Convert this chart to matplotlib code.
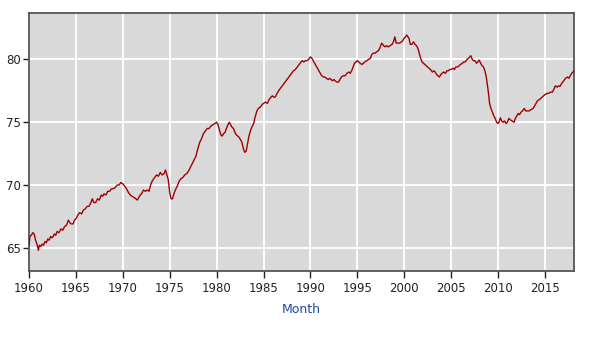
import matplotlib
matplotlib.use("Agg")
import matplotlib.pyplot as plt

years = [
1960.0,1960.1,1960.25,1960.4,1960.55,1960.7,1960.85,1961.0,1961.1,1961.25,1961.4,1961.55,1961.7,1961.85,
1962.0,1962.15,1962.3,1962.5,1962.7,1962.85,1963.0,1963.2,1963.4,1963.6,1963.8,1964.0,1964.2,1964.35,
1964.5,1964.7,1964.85,1965.0,1965.2,1965.4,1965.6,1965.8,1966.0,1966.2,1966.4,1966.6,1966.75,1966.9,
1967.1,1967.3,1967.5,1967.7,1967.85,1968.0,1968.2,1968.4,1968.6,1968.8,1969.0,1969.2,1969.4,1969.6,
1969.8,1970.0,1970.2,1970.4,1970.6,1970.8,1971.0,1971.2,1971.4,1971.55,1971.7,1971.85,1972.0,1972.2,
1972.4,1972.6,1972.8,1973.0,1973.2,1973.4,1973.6,1973.8,1974.0,1974.2,1974.4,1974.55,1974.7,1974.85,
1975.0,1975.15,1975.3,1975.45,1975.6,1975.8,1976.0,1976.2,1976.4,1976.6,1976.8,1977.0,1977.2,1977.4,
1977.6,1977.8,1978.0,1978.2,1978.4,1978.6,1978.8,1979.0,1979.2,1979.4,1979.6,1979.8,1980.0,1980.15,
1980.3,1980.45,1980.6,1980.75,1980.9,1981.05,1981.2,1981.35,1981.5,1981.65,1981.8,1981.95,1982.1,
1982.25,1982.4,1982.55,1982.7,1982.85,1983.0,1983.15,1983.3,1983.45,1983.6,1983.75,1983.95,1984.1,
1984.3,1984.45,1984.65,1984.85,1985.0,1985.2,1985.4,1985.6,1985.8,1985.95,1986.1,1986.25,1986.45,
1986.6,1986.8,1987.0,1987.2,1987.4,1987.6,1987.8,1988.0,1988.2,1988.4,1988.6,1988.8,1989.0,1989.15,
1989.3,1989.45,1989.6,1989.8,1990.0,1990.15,1990.3,1990.45,1990.6,1990.75,1990.9,1991.05,1991.2,
1991.4,1991.55,1991.7,1991.9,1992.05,1992.2,1992.35,1992.5,1992.65,1992.8,1993.0,1993.15,1993.3,
1993.5,1993.7,1993.9,1994.1,1994.25,1994.4,1994.55,1994.7,1994.85,1995.0,1995.15,1995.3,1995.5,
1995.65,1995.8,1996.0,1996.2,1996.4,1996.55,1996.7,1996.9,1997.05,1997.25,1997.4,1997.6,1997.8,
1997.95,1998.1,1998.3,1998.5,1998.7,1998.85,1999.0,1999.15,1999.3,1999.5,1999.7,1999.85,2000.0,
2000.15,2000.25,2000.4,2000.5,2000.65,2000.8,2001.0,2001.15,2001.3,2001.45,2001.6,2001.75,2001.9,
2002.05,2002.2,2002.35,2002.5,2002.65,2002.8,2003.0,2003.15,2003.3,2003.45,2003.6,2003.75,2003.9,
2004.05,2004.2,2004.4,2004.55,2004.7,2004.85,2005.0,2005.2,2005.35,2005.5,2005.7,2005.85,2006.0,
2006.2,2006.35,2006.5,2006.7,2006.85,2007.0,2007.1,2007.25,2007.4,2007.55,2007.7,2007.85,2008.0,
2008.15,2008.3,2008.45,2008.6,2008.75,2008.9,2009.0,2009.1,2009.25,2009.4,2009.55,2009.7,2009.85,
2010.0,2010.1,2010.25,2010.4,2010.55,2010.7,2010.85,2011.0,2011.15,2011.3,2011.5,2011.7,2011.85,
2012.0,2012.15,2012.3,2012.45,2012.6,2012.8,2012.95,2013.15,2013.3,2013.5,2013.75,2013.9,2014.05,
2014.2,2014.4,2014.55,2014.7,2014.85,2015.0,2015.25,2015.4,2015.6,2015.8,2016.0,2016.1,2016.3,
2016.45,2016.6,2016.8,2017.0,2017.2,2017.4,2017.55,2017.7,2017.85,2018.0,2018.08]

ratio = [
65.2,65.9,66.0,66.2,66.1,65.6,65.3,64.8,65.2,65.1,65.3,65.2,65.5,65.4,
65.7,65.6,65.9,65.8,66.1,66.0,66.3,66.2,66.5,66.4,66.7,66.8,67.2,67.0,
66.9,66.9,67.2,67.3,67.6,67.8,67.7,68.0,68.1,68.3,68.3,68.6,68.9,68.6,
68.6,68.9,68.8,69.2,69.1,69.3,69.2,69.5,69.5,69.7,69.7,69.8,70.0,70.0,
70.2,70.1,69.9,69.7,69.4,69.2,69.1,69.0,68.9,68.8,69.0,69.2,69.3,69.6,
69.5,69.6,69.5,70.1,70.4,70.6,70.8,70.7,71.0,70.8,70.9,71.2,70.8,70.4,
69.4,68.9,68.9,69.3,69.6,69.9,70.3,70.5,70.6,70.8,70.9,71.1,71.4,71.7,
72.0,72.3,72.9,73.4,73.7,74.1,74.3,74.5,74.5,74.7,74.8,74.9,75.0,74.8,
74.4,74.0,73.9,74.1,74.2,74.5,74.8,75.0,74.8,74.6,74.5,74.2,74.0,
73.9,73.8,73.6,73.4,72.9,72.6,72.7,73.3,73.9,74.3,74.6,74.9,75.4,
75.9,76.1,76.2,76.4,76.5,76.6,76.5,76.8,77.0,77.1,77.0,77.0,77.3,
77.5,77.7,77.9,78.1,78.3,78.5,78.7,78.9,79.1,79.2,79.4,79.6,79.8,79.9,
79.8,79.9,79.9,80.0,80.2,80.1,79.9,79.7,79.5,79.3,79.1,78.9,78.7,
78.6,78.6,78.5,78.4,78.5,78.4,78.3,78.4,78.3,78.2,78.2,78.4,78.6,
78.7,78.7,78.9,79.0,78.9,79.1,79.4,79.7,79.8,79.9,79.8,79.7,79.6,
79.7,79.8,79.9,80.0,80.1,80.4,80.5,80.5,80.6,80.7,80.9,81.3,81.1,
81.0,81.1,81.0,81.1,81.2,81.4,81.8,81.3,81.3,81.3,81.4,81.5,81.7,
81.8,81.95,81.8,81.7,81.2,81.2,81.4,81.2,81.1,80.9,80.5,80.1,79.8,
79.7,79.6,79.5,79.4,79.3,79.2,79.0,79.1,79.0,78.8,78.7,78.6,78.8,
78.9,79.0,78.9,79.1,79.1,79.2,79.2,79.3,79.2,79.4,79.4,79.5,79.6,
79.7,79.8,79.8,80.0,80.1,80.2,80.3,80.0,79.9,79.9,79.7,79.8,79.95,
79.7,79.5,79.4,79.1,78.6,77.8,77.2,76.5,76.1,75.8,75.5,75.3,75.0,
74.9,75.0,75.35,75.1,75.0,75.1,74.9,75.0,75.3,75.2,75.1,75.0,75.3,
75.5,75.7,75.6,75.8,75.9,76.1,75.9,75.9,75.9,76.0,76.1,76.3,76.5,
76.7,76.8,76.9,77.0,77.1,77.2,77.3,77.3,77.4,77.4,77.7,77.9,77.8,
77.9,77.85,78.1,78.3,78.5,78.6,78.5,78.7,78.9,79.0,79.1]

xticks = [1960, 1965, 1970, 1975, 1980, 1985, 1990, 1995, 2000, 2005, 2010, 2015]
yticks = [65, 70, 75, 80]
xlabel = "Month"

fig = plt.figure(figsize=(6.03, 3.38), dpi=100)
ax = fig.add_axes([29/603, 1-271/338, (574-29)/603, (271-13)/338])
ax.set_facecolor("#d9d9d9")
ax.plot(years, ratio, color="#a00000", lw=1.0, zorder=3)
ax.set_xlim(1960, 2018.1)
ax.set_ylim(63.15, 83.7)
ax.set_xticks(xticks)
ax.set_xticklabels([str(t) for t in xticks])
ax.set_yticks(yticks)
ax.set_yticklabels([str(t) for t in yticks])
ax.grid(True, color="white", lw=1.3, zorder=1)
ax.set_axisbelow(True)
for s in ax.spines.values():
    s.set_color("#555555")
    s.set_linewidth(1.3)
ax.tick_params(axis="both", colors="#222222", labelsize=8.5, length=4, width=1, pad=2)
ax.tick_params(axis="x", length=5, pad=3)
ax.set_xlabel(xlabel, color="#1f45a8", fontsize=9, labelpad=6)
fig.savefig("out.png", dpi=100)
